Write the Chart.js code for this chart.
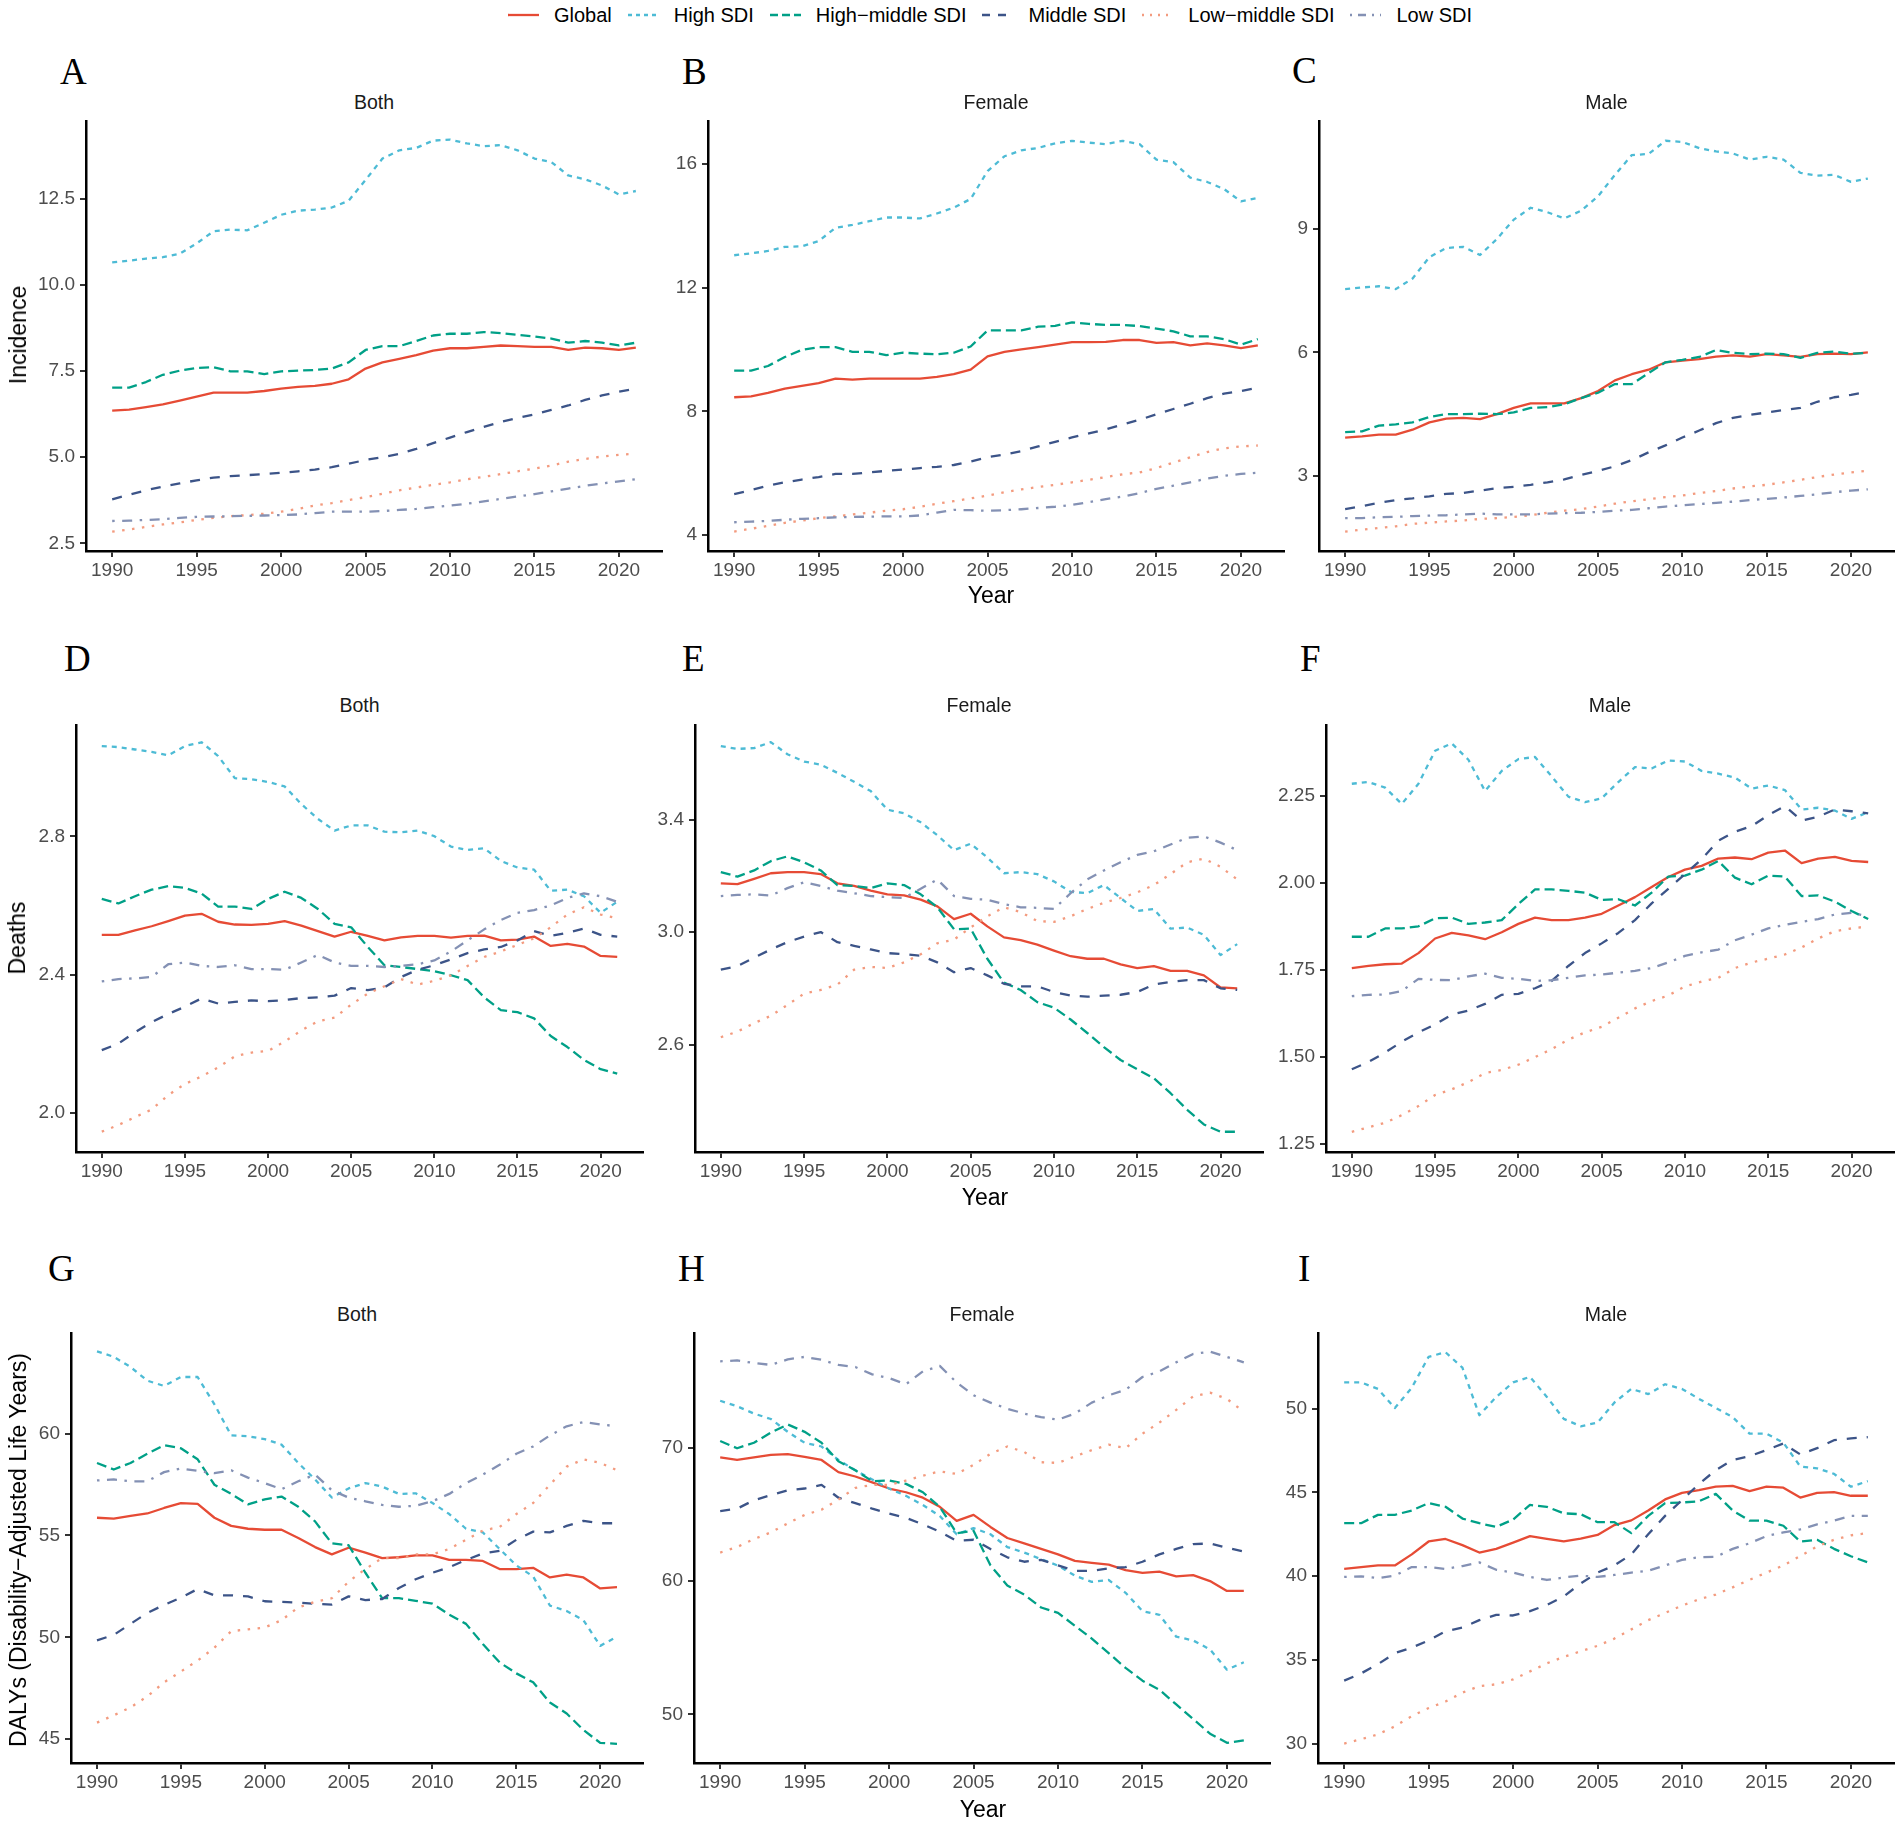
<!doctype html>
<html lang="en">
<head>
<meta charset="UTF-8">
<title>Incidence, deaths and DALYs by SDI, 1990-2021</title>
<script src="https://cdn.jsdelivr.net/npm/chart.js"></script>
<style>
  html, body { margin: 0; padding: 0; background: #fff; }
  body { width: 1902px; height: 1822px; position: relative; overflow: hidden;
         font-family: "Liberation Sans", Arial, sans-serif; }
  .box { position: absolute; }
  .letter { position: absolute; font-family: "Liberation Serif", "Times New Roman", serif;
            font-size: 37px; line-height: 37px; color: #000; }
  .facet { position: absolute; width: 400px; text-align: center; font-size: 19.5px;
           line-height: 24px; color: #1a1a1a; }
  .xtitle { position: absolute; width: 200px; text-align: center; font-size: 23px;
            line-height: 28px; color: #000; }
  .ytitle { position: absolute; white-space: nowrap; font-size: 23px; line-height: 28px; color: #000;
            transform: translate(-50%, -50%) rotate(-90deg); }
  #legend { position: absolute; left: 508px; top: 3px; height: 24px; display: flex;
            align-items: center; font-size: 20px; color: #000; white-space: nowrap; }
  #legend svg { display: block; }
  #legend span { margin-left: 15px; margin-right: 16px; }
</style>
</head>
<body>
<div id="legend"></div>
<script>
// years and series
const years = [1990,1991,1992,1993,1994,1995,1996,1997,1998,1999,2000,2001,2002,2003,2004,2005,
               2006,2007,2008,2009,2010,2011,2012,2013,2014,2015,2016,2017,2018,2019,2020,2021];
const yearTicks = [1990, 1995, 2000, 2005, 2010, 2015, 2020];
const seriesNames = ['Global', 'High SDI', 'High\u2212middle SDI', 'Middle SDI', 'Low\u2212middle SDI', 'Low SDI'];
const seriesColors = ['#E64B35', '#4DBBD5', '#00A087', '#3C5488', '#F39B7F', '#8491B4'];
const dashUnits = [[], [2, 2], [4, 2], [4, 4], [1, 3], [1, 3, 4, 3]]; // ggplot linetypes

// A - Incidence, both
const incBothGlobal = [6.35,6.38,6.45,6.53,6.64,6.76,6.87,6.87,6.87,6.92,6.99,7.04,7.07,7.13,7.26,7.57,7.75,7.85,7.96,8.09,8.16,8.16,8.20,8.24,8.22,8.20,8.20,8.11,8.18,8.16,8.11,8.18];
const incBothHigh = [10.65,10.70,10.76,10.80,10.90,11.20,11.55,11.60,11.58,11.80,12.03,12.15,12.18,12.24,12.44,13.04,13.66,13.90,13.97,14.18,14.21,14.10,14.02,14.05,13.90,13.66,13.56,13.17,13.06,12.88,12.62,12.72];
const incBothHighMid = [7.02,7.02,7.18,7.39,7.51,7.59,7.61,7.49,7.49,7.41,7.49,7.51,7.53,7.57,7.75,8.11,8.22,8.22,8.37,8.53,8.58,8.58,8.63,8.60,8.55,8.50,8.44,8.32,8.37,8.32,8.24,8.32];
const incBothMid = [3.78,3.91,4.04,4.15,4.24,4.33,4.41,4.45,4.48,4.51,4.55,4.59,4.64,4.71,4.81,4.92,5.00,5.10,5.24,5.41,5.57,5.73,5.88,6.02,6.14,6.24,6.37,6.50,6.66,6.79,6.90,6.99];
const incBothLowMid = [2.84,2.90,2.98,3.05,3.11,3.18,3.24,3.29,3.32,3.36,3.42,3.50,3.60,3.67,3.76,3.84,3.94,4.04,4.12,4.20,4.27,4.36,4.43,4.51,4.59,4.67,4.76,4.87,4.95,5.02,5.07,5.10];
const incBothLow = [3.15,3.16,3.18,3.20,3.24,3.27,3.28,3.29,3.30,3.31,3.32,3.34,3.38,3.42,3.42,3.42,3.44,3.47,3.50,3.55,3.60,3.65,3.72,3.79,3.86,3.93,4.01,4.09,4.17,4.24,4.30,4.36];
const incBothTicks = ['2.5', '5.0', '7.5', '10.0', '12.5'];

// B - Incidence, female
const incFemGlobal = [8.46,8.49,8.60,8.74,8.83,8.92,9.06,9.03,9.06,9.06,9.06,9.06,9.12,9.21,9.35,9.78,9.93,10.01,10.08,10.16,10.24,10.24,10.25,10.31,10.31,10.22,10.24,10.14,10.20,10.14,10.05,10.14];
const incFemHigh = [13.05,13.11,13.19,13.32,13.34,13.51,13.94,14.03,14.15,14.27,14.27,14.24,14.40,14.59,14.87,15.77,16.25,16.44,16.52,16.67,16.75,16.69,16.64,16.75,16.64,16.14,16.06,15.56,15.42,15.19,14.79,14.90];
const incFemHighMid = [9.32,9.32,9.47,9.76,9.99,10.08,10.08,9.93,9.93,9.82,9.90,9.87,9.85,9.90,10.10,10.62,10.62,10.62,10.74,10.77,10.88,10.83,10.80,10.80,10.76,10.68,10.59,10.43,10.43,10.34,10.16,10.34];
const incFemMid = [5.33,5.46,5.60,5.71,5.80,5.88,5.98,5.98,6.03,6.08,6.12,6.17,6.21,6.27,6.38,6.52,6.61,6.72,6.87,7.02,7.16,7.29,7.42,7.58,7.73,7.91,8.08,8.25,8.43,8.58,8.66,8.77];
const incFemLowMid = [4.12,4.21,4.30,4.40,4.47,4.55,4.61,4.67,4.73,4.79,4.84,4.92,5.02,5.10,5.19,5.28,5.39,5.48,5.56,5.63,5.71,5.79,5.88,5.97,6.03,6.17,6.35,6.52,6.69,6.81,6.87,6.90];
const incFemLow = [4.42,4.44,4.46,4.50,4.53,4.55,4.58,4.59,4.60,4.61,4.61,4.64,4.73,4.82,4.81,4.79,4.81,4.84,4.88,4.92,4.98,5.07,5.17,5.25,5.36,5.50,5.60,5.71,5.83,5.92,5.98,6.02];
const incFemTicks = ['4', '8', '12', '16'];

// C - Incidence, male
const incMaleGlobal = [3.93,3.96,4.00,4.00,4.12,4.30,4.39,4.41,4.38,4.50,4.65,4.76,4.76,4.76,4.89,5.06,5.32,5.47,5.58,5.76,5.80,5.84,5.90,5.93,5.90,5.96,5.93,5.89,5.96,5.97,5.96,6.00];
const incMaleHigh = [7.54,7.58,7.61,7.54,7.80,8.32,8.54,8.57,8.37,8.76,9.23,9.52,9.41,9.26,9.45,9.80,10.32,10.80,10.83,11.15,11.12,10.97,10.89,10.84,10.69,10.76,10.69,10.37,10.30,10.32,10.15,10.23];
const incMaleHighMid = [4.06,4.08,4.22,4.25,4.30,4.43,4.50,4.50,4.51,4.50,4.54,4.65,4.67,4.74,4.89,5.02,5.23,5.23,5.50,5.76,5.82,5.89,6.06,5.99,5.96,5.97,5.96,5.87,5.99,6.02,5.97,5.99];
const incMaleMid = [2.19,2.26,2.34,2.41,2.45,2.50,2.56,2.58,2.64,2.70,2.73,2.78,2.84,2.91,3.02,3.12,3.23,3.38,3.57,3.74,3.93,4.10,4.28,4.41,4.48,4.54,4.60,4.65,4.80,4.91,4.97,5.04];
const incMaleLowMid = [1.64,1.69,1.73,1.77,1.83,1.86,1.89,1.91,1.95,1.97,2.00,2.04,2.10,2.15,2.19,2.25,2.32,2.38,2.43,2.48,2.52,2.58,2.63,2.69,2.74,2.78,2.84,2.90,2.97,3.03,3.08,3.12];
const incMaleLow = [1.97,1.97,1.99,2.00,2.02,2.03,2.04,2.06,2.08,2.06,2.06,2.06,2.08,2.09,2.10,2.12,2.15,2.17,2.21,2.25,2.28,2.31,2.34,2.37,2.41,2.44,2.47,2.51,2.55,2.60,2.64,2.67];
const incMaleTicks = ['3', '6', '9'];

// D - Deaths, both
const deathBothGlobal = [2.515,2.515,2.528,2.540,2.555,2.571,2.576,2.553,2.545,2.544,2.547,2.555,2.542,2.526,2.510,2.524,2.512,2.499,2.508,2.512,2.512,2.507,2.512,2.513,2.499,2.501,2.510,2.483,2.489,2.481,2.454,2.451];
const deathBothHigh = [3.062,3.059,3.052,3.045,3.035,3.062,3.073,3.033,2.969,2.966,2.958,2.945,2.894,2.851,2.817,2.832,2.832,2.814,2.812,2.817,2.801,2.771,2.761,2.766,2.729,2.710,2.704,2.643,2.646,2.627,2.579,2.611];
const deathBothHighMid = [2.619,2.606,2.627,2.646,2.656,2.651,2.635,2.597,2.597,2.590,2.619,2.640,2.622,2.590,2.547,2.537,2.480,2.427,2.422,2.416,2.410,2.398,2.384,2.334,2.297,2.291,2.273,2.222,2.190,2.153,2.126,2.113];
const deathBothMid = [2.181,2.200,2.233,2.262,2.286,2.307,2.331,2.316,2.321,2.325,2.323,2.326,2.332,2.334,2.339,2.361,2.355,2.363,2.393,2.414,2.427,2.444,2.462,2.473,2.480,2.499,2.526,2.512,2.521,2.533,2.515,2.510];
const deathBothLowMid = [1.945,1.964,1.987,2.009,2.051,2.083,2.105,2.131,2.163,2.174,2.179,2.206,2.238,2.265,2.275,2.313,2.345,2.366,2.387,2.371,2.382,2.398,2.425,2.451,2.467,2.486,2.505,2.537,2.574,2.595,2.574,2.563];
const deathBothLow = [2.380,2.387,2.389,2.393,2.430,2.435,2.425,2.422,2.427,2.416,2.416,2.414,2.435,2.457,2.435,2.425,2.425,2.422,2.425,2.430,2.441,2.467,2.499,2.531,2.558,2.579,2.587,2.600,2.622,2.635,2.627,2.611];
const deathBothTicks = ['2.0', '2.4', '2.8'];

// E - Deaths, female
const deathFemGlobal = [3.173,3.170,3.189,3.209,3.213,3.213,3.206,3.173,3.164,3.147,3.134,3.130,3.115,3.091,3.046,3.065,3.020,2.981,2.971,2.955,2.934,2.914,2.905,2.905,2.885,2.872,2.879,2.862,2.862,2.846,2.803,2.800];
const deathFemHigh = [3.661,3.651,3.654,3.675,3.632,3.606,3.595,3.566,3.534,3.501,3.435,3.422,3.390,3.344,3.291,3.314,3.265,3.209,3.213,3.206,3.180,3.143,3.138,3.167,3.121,3.075,3.082,3.012,3.016,2.990,2.918,2.957];
const deathFemHighMid = [3.213,3.197,3.219,3.252,3.269,3.248,3.219,3.167,3.164,3.156,3.173,3.167,3.134,3.088,3.010,3.012,2.905,2.820,2.794,2.751,2.731,2.689,2.641,2.591,2.545,2.512,2.480,2.427,2.368,2.316,2.290,2.290];
const deathFemMid = [2.866,2.879,2.909,2.938,2.964,2.984,3.000,2.964,2.951,2.938,2.925,2.921,2.916,2.892,2.857,2.872,2.846,2.816,2.807,2.807,2.787,2.774,2.770,2.774,2.777,2.787,2.813,2.823,2.829,2.829,2.800,2.794];
const deathFemLowMid = [2.626,2.646,2.676,2.702,2.741,2.781,2.794,2.813,2.866,2.876,2.872,2.892,2.921,2.960,2.973,3.016,3.056,3.088,3.071,3.039,3.036,3.056,3.082,3.104,3.121,3.141,3.167,3.206,3.248,3.261,3.232,3.187];
const deathFemLow = [3.128,3.132,3.134,3.130,3.156,3.177,3.164,3.147,3.138,3.128,3.124,3.121,3.154,3.187,3.128,3.118,3.115,3.099,3.088,3.086,3.082,3.138,3.187,3.219,3.248,3.274,3.287,3.311,3.335,3.340,3.318,3.291];
const deathFemTicks = ['2.6', '3.0', '3.4'];

// F - Deaths, male
const deathMaleGlobal = [1.755,1.761,1.766,1.768,1.798,1.840,1.856,1.849,1.838,1.858,1.882,1.900,1.893,1.893,1.900,1.911,1.935,1.959,1.988,2.017,2.038,2.049,2.070,2.073,2.068,2.087,2.093,2.057,2.070,2.075,2.063,2.060];
const deathMaleHigh = [2.285,2.290,2.274,2.227,2.285,2.380,2.401,2.354,2.264,2.322,2.356,2.362,2.306,2.248,2.232,2.243,2.290,2.333,2.329,2.352,2.349,2.322,2.314,2.303,2.271,2.280,2.267,2.211,2.216,2.208,2.184,2.203];
const deathMaleHighMid = [1.845,1.845,1.869,1.869,1.875,1.898,1.900,1.882,1.886,1.893,1.939,1.981,1.981,1.977,1.972,1.951,1.953,1.935,1.972,2.018,2.021,2.038,2.063,2.015,1.996,2.021,2.018,1.962,1.964,1.946,1.919,1.896];
const deathMaleMid = [1.464,1.485,1.512,1.543,1.570,1.593,1.621,1.633,1.652,1.678,1.681,1.697,1.718,1.761,1.798,1.826,1.856,1.893,1.941,1.983,2.025,2.068,2.121,2.147,2.163,2.195,2.221,2.179,2.190,2.211,2.206,2.200];
const deathMaleLowMid = [1.284,1.297,1.310,1.332,1.358,1.390,1.406,1.427,1.453,1.462,1.477,1.499,1.522,1.549,1.570,1.586,1.612,1.639,1.660,1.676,1.702,1.716,1.727,1.755,1.771,1.782,1.794,1.814,1.840,1.861,1.869,1.875];
const deathMaleLow = [1.674,1.678,1.679,1.689,1.724,1.721,1.720,1.731,1.739,1.727,1.724,1.718,1.720,1.727,1.734,1.736,1.742,1.747,1.755,1.771,1.790,1.800,1.808,1.835,1.851,1.869,1.879,1.888,1.896,1.909,1.914,1.904];
const deathMaleTicks = ['1.25', '1.50', '1.75', '2.00', '2.25'];

// G - DALYs, both
const dalyBothGlobal = [55.87,55.83,55.96,56.08,56.35,56.59,56.55,55.87,55.47,55.33,55.28,55.28,54.88,54.43,54.07,54.40,54.16,53.89,53.93,54.02,54.02,53.80,53.80,53.75,53.35,53.35,53.41,52.94,53.08,52.94,52.40,52.46];
const dalyBothHigh = [64.04,63.77,63.27,62.60,62.34,62.78,62.78,61.44,59.91,59.87,59.73,59.46,58.56,57.75,56.86,57.31,57.57,57.40,57.04,57.07,56.59,56.05,55.33,55.15,54.34,53.53,52.99,51.56,51.29,50.84,49.58,50.03];
const dalyBothHighMid = [58.56,58.24,58.56,59.01,59.43,59.28,58.74,57.49,57.04,56.53,56.77,56.91,56.41,55.69,54.61,54.52,53.17,51.92,51.92,51.79,51.65,51.11,50.66,49.67,48.77,48.23,47.79,46.80,46.26,45.45,44.82,44.77];
const dalyBothMid = [49.85,50.12,50.66,51.20,51.59,51.95,52.37,52.06,52.06,52.01,51.77,51.74,51.70,51.65,51.61,52.01,51.83,51.88,52.42,52.85,53.17,53.44,53.80,54.11,54.25,54.79,55.19,55.15,55.47,55.72,55.60,55.60];
const dalyBothLowMid = [45.81,46.17,46.56,47.10,47.79,48.32,48.86,49.49,50.30,50.39,50.48,50.84,51.47,51.74,51.92,52.73,53.35,53.89,53.89,54.07,54.07,54.34,54.79,55.24,55.42,56.05,56.59,57.49,58.38,58.74,58.56,58.20];
const dalyBothLow = [57.70,57.75,57.66,57.66,58.11,58.29,58.17,58.06,58.20,57.84,57.57,57.27,57.66,57.99,57.22,56.86,56.68,56.50,56.41,56.46,56.68,57.04,57.57,57.99,58.47,59.01,59.37,59.91,60.36,60.57,60.45,60.36];
const dalyBothTicks = ['45', '50', '55', '60'];

// H - DALYs, female
const dalyFemGlobal = [69.26,69.07,69.26,69.45,69.51,69.31,69.07,68.16,67.83,67.39,66.93,66.65,66.24,65.56,64.51,64.95,64.05,63.22,62.81,62.40,61.99,61.50,61.36,61.22,60.81,60.60,60.70,60.35,60.43,59.99,59.25,59.25];
const dalyFemHigh = [73.51,73.10,72.55,72.14,71.18,70.36,70.08,69.07,68.30,67.61,66.93,66.38,65.69,64.87,63.50,63.96,63.50,62.54,62.13,61.63,61.15,60.40,59.93,60.07,59.11,57.74,57.46,55.82,55.54,54.86,53.35,53.90];
const dalyFemHighMid = [70.49,69.95,70.36,71.12,71.73,71.18,70.36,68.98,68.30,67.48,67.53,67.28,66.65,65.56,63.58,63.77,61.17,59.66,58.97,58.01,57.60,56.64,55.68,54.58,53.48,52.52,51.84,50.74,49.64,48.55,47.86,48.05];
const dalyFemMid = [65.23,65.42,66.05,66.43,66.79,66.93,67.20,66.24,65.83,65.42,65.06,64.73,64.24,63.69,63.00,63.09,62.40,61.77,61.44,61.58,61.17,60.75,60.75,60.95,61.03,61.44,61.99,62.40,62.76,62.81,62.48,62.21];
const dalyFemLowMid = [62.13,62.54,63.14,63.64,64.32,64.95,65.34,66.10,66.98,67.20,67.20,67.53,67.89,68.22,68.02,68.71,69.53,70.08,69.67,68.90,68.85,69.34,69.81,70.22,69.95,71.04,71.87,72.83,73.84,74.12,73.65,72.69];
const dalyFemLow = [76.47,76.53,76.34,76.20,76.61,76.80,76.58,76.20,76.04,75.49,75.21,74.75,75.71,76.12,74.88,73.92,73.37,72.91,72.55,72.28,72.09,72.55,73.37,73.92,74.33,75.29,75.71,76.39,77.02,77.19,76.80,76.39];
const dalyFemTicks = ['50', '60', '70'];

// I - DALYs, male
const dalyMaleGlobal = [40.43,40.54,40.64,40.64,41.30,42.07,42.22,41.85,41.41,41.63,42.00,42.39,42.22,42.07,42.24,42.46,43.05,43.33,43.92,44.58,44.97,45.13,45.34,45.39,45.08,45.34,45.28,44.69,44.97,45.02,44.80,44.80];
const dalyMaleHigh = [51.57,51.57,51.18,50.04,51.25,53.10,53.37,52.45,49.61,50.70,51.57,51.90,50.70,49.39,48.95,49.17,50.37,51.18,50.87,51.46,51.18,50.59,50.04,49.50,48.51,48.51,47.97,46.55,46.44,46.11,45.34,45.67];
const dalyMaleHighMid = [43.16,43.16,43.66,43.66,43.92,44.36,44.14,43.44,43.16,42.94,43.38,44.25,44.14,43.75,43.70,43.22,43.22,42.57,43.60,44.36,44.40,44.47,44.91,43.92,43.31,43.31,43.01,42.07,42.17,41.63,41.19,40.82];
const dalyMaleMid = [33.76,34.19,34.74,35.40,35.73,36.16,36.71,36.93,37.37,37.69,37.65,37.91,38.28,38.79,39.56,40.21,40.64,41.30,42.50,43.60,44.54,45.50,46.33,46.94,47.16,47.53,47.92,47.27,47.64,48.12,48.23,48.30];
const dalyMaleLowMid = [30.00,30.26,30.55,31.03,31.64,32.12,32.51,33.04,33.43,33.54,33.83,34.31,34.79,35.18,35.51,35.84,36.27,36.82,37.37,37.80,38.24,38.61,38.90,39.33,39.78,40.21,40.64,41.20,41.78,42.17,42.44,42.57];
const dalyMaleLow = [39.95,39.99,39.88,40.03,40.54,40.54,40.43,40.60,40.82,40.38,40.21,39.95,39.77,39.92,40.03,39.95,40.07,40.21,40.32,40.64,40.97,41.13,41.15,41.63,41.96,42.39,42.61,42.79,43.09,43.31,43.60,43.60];
const dalyMaleTicks = ['30', '35', '40', '45', '50'];

// panel layout: plot box in page pixels and y range
const panels = [
  { letter: 'A', lx: 60, ly: 84, facet: 'Both', series: [incBothGlobal, incBothHigh, incBothHighMid, incBothMid, incBothLowMid, incBothLow],
    ticks: incBothTicks, min: 2.28, max: 14.75, L: 86, R: 662, T: 121, B: 551 },
  { letter: 'B', lx: 682, ly: 84, facet: 'Female', series: [incFemGlobal, incFemHigh, incFemHighMid, incFemMid, incFemLowMid, incFemLow],
    ticks: incFemTicks, min: 3.49, max: 17.39, L: 708, R: 1284, T: 121, B: 551 },
  { letter: 'C', lx: 1292, ly: 83, facet: 'Male', series: [incMaleGlobal, incMaleHigh, incMaleHighMid, incMaleMid, incMaleLowMid, incMaleLow],
    ticks: incMaleTicks, min: 1.17, max: 11.63, L: 1319, R: 1894, T: 121, B: 551 },
  { letter: 'D', lx: 64, ly: 671, facet: 'Both', series: [deathBothGlobal, deathBothHigh, deathBothHighMid, deathBothMid, deathBothLowMid, deathBothLow],
    ticks: deathBothTicks, min: 1.886, max: 3.123, L: 76, R: 643, T: 725, B: 1152 },
  { letter: 'E', lx: 682, ly: 671, facet: 'Female', series: [deathFemGlobal, deathFemHigh, deathFemHighMid, deathFemMid, deathFemLowMid, deathFemLow],
    ticks: deathFemTicks, min: 2.218, max: 3.736, L: 695, R: 1263, T: 725, B: 1152 },
  { letter: 'F', lx: 1300, ly: 671, facet: 'Male', series: [deathMaleGlobal, deathMaleHigh, deathMaleHighMid, deathMaleMid, deathMaleLowMid, deathMaleLow],
    ticks: deathMaleTicks, min: 1.226, max: 2.454, L: 1326, R: 1894, T: 725, B: 1152 },
  { letter: 'G', lx: 48, ly: 1281, facet: 'Both', series: [dalyBothGlobal, dalyBothHigh, dalyBothHighMid, dalyBothMid, dalyBothLowMid, dalyBothLow],
    ticks: dalyBothTicks, min: 43.83, max: 64.94, L: 71, R: 643, T: 1333, B: 1763 },
  { letter: 'H', lx: 678, ly: 1281, facet: 'Female', series: [dalyFemGlobal, dalyFemHigh, dalyFemHighMid, dalyFemMid, dalyFemLowMid, dalyFemLow],
    ticks: dalyFemTicks, min: 46.35, max: 78.59, L: 694, R: 1270, T: 1333, B: 1763 },
  { letter: 'I', lx: 1298, ly: 1281, facet: 'Male', series: [dalyMaleGlobal, dalyMaleHigh, dalyMaleHighMid, dalyMaleMid, dalyMaleLowMid, dalyMaleLow],
    ticks: dalyMaleTicks, min: 28.84, max: 54.52, L: 1318, R: 1894, T: 1333, B: 1763 }
];

const facetY = [102, 705, 1314];
const yTitles = [
  { text: 'Incidence', x: 18, y: 335 },
  { text: 'Deaths', x: 17, y: 938 },
  { text: 'DALYs (Disability\u2212Adjusted Life Years)', x: 18, y: 1550 }
];
const xTitles = [{ x: 991, y: 595 }, { x: 985, y: 1197 }, { x: 983, y: 1809 }];

const tickFont = { family: 'Liberation Sans', size: 19 };
const YW = 80, XH = 45, PT = 4, PR = 4, DASH = 2.5;

function addDiv(cls, text, css) {
  const d = document.createElement('div');
  d.className = cls;
  d.textContent = text;
  Object.assign(d.style, css);
  document.body.appendChild(d);
  return d;
}

function makePanel(p, idx) {
  const w = p.R - p.L + YW + PR;
  const h = p.B - p.T + PT + XH;
  const box = document.createElement('div');
  box.className = 'box';
  box.style.left = (p.L - YW) + 'px';
  box.style.top = (p.T - PT) + 'px';
  box.style.width = w + 'px';
  box.style.height = h + 'px';
  const cv = document.createElement('canvas');
  cv.width = w;
  cv.height = h;
  cv.style.width = w + 'px';
  cv.style.height = h + 'px';
  box.appendChild(cv);
  document.body.appendChild(box);

  const axisGrid = { drawOnChartArea: false, drawTicks: true, tickLength: 6, color: '#333333', lineWidth: 2 };
  const axisBorder = { display: true, color: '#000000', width: 2.5 };

  new Chart(cv, {
    type: 'line',
    data: {
      datasets: p.series.map((vals, i) => ({
        label: seriesNames[i],
        data: years.map((yr, k) => ({ x: yr, y: vals[k] })),
        borderColor: seriesColors[i],
        borderWidth: 2.3,
        borderDash: dashUnits[i].map(u => u * DASH),
        borderCapStyle: 'butt',
        borderJoinStyle: 'round',
        pointRadius: 0,
        tension: 0,
        fill: false,
        order: 5 - i
      }))
    },
    options: {
      responsive: false,
      animation: false,
      layout: { padding: { top: PT, right: PR, left: 0, bottom: 0 } },
      plugins: { legend: { display: false }, tooltip: { enabled: false } },
      scales: {
        x: {
          type: 'linear', min: 1988.45, max: 2022.55,
          afterBuildTicks: s => { s.ticks = yearTicks.map(v => ({ value: v })); },
          afterFit: s => { s.height = XH; s.paddingLeft = 0; s.paddingRight = 0; },
          grid: axisGrid, border: axisBorder,
          ticks: { autoSkip: false, maxRotation: 0, padding: 2, font: tickFont, color: '#4D4D4D',
                   callback: v => String(v) }
        },
        y: {
          type: 'linear', min: p.min, max: p.max,
          afterBuildTicks: s => { s.ticks = p.ticks.map(t => ({ value: parseFloat(t) })); },
          // keep the plot box where it is: no extra room for half-labels
          afterFit: s => { s.width = YW; s.paddingTop = 0; s.paddingBottom = 0; },
          grid: axisGrid, border: axisBorder,
          ticks: { autoSkip: false, padding: 5, font: tickFont, color: '#4D4D4D',
                   callback: (v, i) => p.ticks[i] }
        }
      }
    }
  });

  addDiv('letter', p.letter, { left: p.lx + 'px', top: (p.ly - 31) + 'px' });
  const cx = (p.L + p.R) / 2;
  addDiv('facet', p.facet, { left: (cx - 200) + 'px', top: (facetY[Math.floor(idx / 3)] - 12) + 'px' });
}

panels.forEach(makePanel);

yTitles.forEach(t => addDiv('ytitle', t.text, { left: t.x + 'px', top: t.y + 'px' }));
xTitles.forEach(t => addDiv('xtitle', 'Year', { left: (t.x - 100) + 'px', top: (t.y - 14) + 'px' }));

// legend
const legend = document.getElementById('legend');
seriesNames.forEach((name, i) => {
  const ns = 'http://www.w3.org/2000/svg';
  const svg = document.createElementNS(ns, 'svg');
  svg.setAttribute('width', '31');
  svg.setAttribute('height', '8');
  const ln = document.createElementNS(ns, 'line');
  ln.setAttribute('x1', '0'); ln.setAttribute('y1', '4');
  ln.setAttribute('x2', '31'); ln.setAttribute('y2', '4');
  ln.setAttribute('stroke', seriesColors[i]);
  ln.setAttribute('stroke-width', '2.3');
  if (dashUnits[i].length) ln.setAttribute('stroke-dasharray', dashUnits[i].map(u => u * 2).join(' '));
  svg.appendChild(ln);
  legend.appendChild(svg);
  const sp = document.createElement('span');
  sp.textContent = name;
  legend.appendChild(sp);
});
</script>
</body>
</html>
